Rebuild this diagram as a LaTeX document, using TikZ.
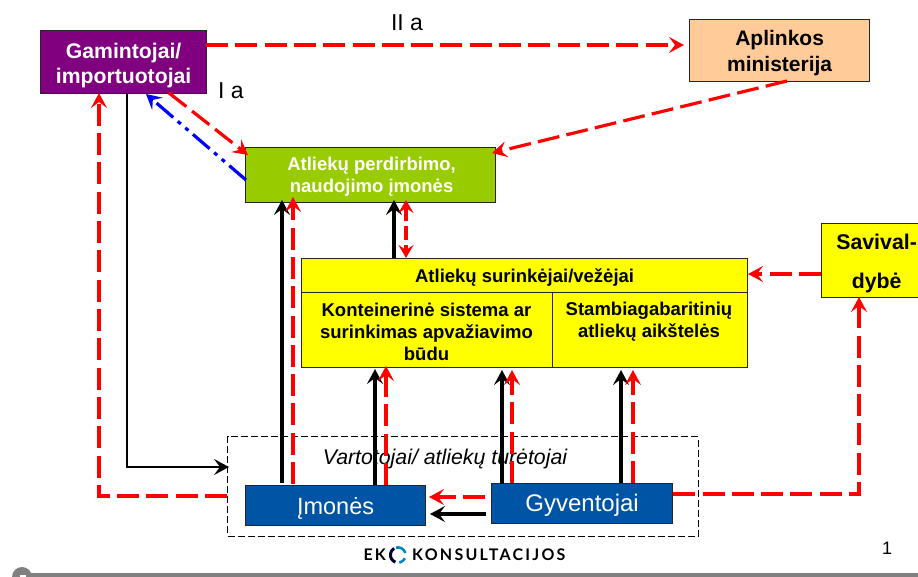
\documentclass[tikz,border=0pt]{standalone}
\usepackage{fontspec}
\setmainfont{Liberation Sans}
\newfontfamily\logofont{Lato}
\usetikzlibrary{arrows.meta}
\definecolor{rd}{RGB}{255,0,0}
\definecolor{purp}{RGB}{128,0,128}
\definecolor{peach}{RGB}{255,204,153}
\definecolor{grn}{RGB}{153,204,0}
\definecolor{blu}{RGB}{0,84,166}
\definecolor{yel}{RGB}{255,255,0}
\definecolor{foot}{RGB}{128,128,128}
\newcommand{\lowerby}[1]{\rule{0pt}{#1pt}}
\tikzset{
  tip/.style={-{Stealth[length=15pt,width=16pt,inset=6pt]}},
  bx/.style={draw=black!85,line width=1.2pt,inner sep=0pt,align=center,anchor=north west},
  red line/.style={draw=rd,line width=3.2pt,dash pattern=on 22pt off 7.3pt},
  blk line/.style={draw=black,line width=3.5pt},
  plain/.style={inner sep=0pt,align=center}
}
\begin{document}
\begin{tikzpicture}[x=1pt,y=-1pt]
\useasboundingbox (0,0) rectangle (918,577);
\fill[white] (0,0) rectangle (918,577);
% footer
\fill[foot] (15,573) rectangle (918,577);
\fill[foot] (22,577) circle (10);
\fill[white] (20,575) rectangle (26,577);
% consumer dashed frame
\node[draw=black,line width=1.3pt,dash pattern=on 7pt off 3pt,minimum width=470.5pt,minimum height=99.5pt,inner sep=0pt,anchor=north west] (frame) at (227,436) {};
% boxes
\node[bx,fill=purp,minimum width=166pt,minimum height=63pt,text=white,font=\fontsize{21.2}{25}\bfseries\selectfont] (gam) at (40,30) {\lowerby{21.5}Gamintojai/\\importuotojai};
\node[bx,fill=peach,minimum width=180pt,minimum height=62pt,font=\fontsize{21}{26}\bfseries\selectfont] (apl) at (689,19) {\lowerby{19.5}Aplinkos\\ministerija};
\node[bx,fill=grn,minimum width=250pt,minimum height=55pt,text=white,font=\fontsize{18.5}{22}\bfseries\selectfont] (grn) at (245,147) {\lowerby{17.5}\hspace*{2pt}Atliekų perdirbimo,\\\hspace*{2pt}naudojimo įmonės};
\node[bx,fill=yel,minimum width=446pt,minimum height=34pt,font=\fontsize{18.5}{20}\bfseries\selectfont] (col) at (301,258) {\lowerby{17}Atliekų surinkėjai/vežėjai};
\node[bx,fill=yel,minimum width=251pt,minimum height=75pt] (kon) at (301,292) {};
\node[bx,fill=yel,minimum width=195pt,minimum height=75pt] (sta) at (552,292) {};
\node[plain,font=\fontsize{18.5}{22}\bfseries\selectfont] (kont) at (426.5,331.5) {Konteinerinė sistema ar\\surinkimas apvažiavimo\\būdu};
\node[plain,font=\fontsize{18.5}{22}\bfseries\selectfont] (stat) at (649,322) {Stambiagabaritinių\\atliekų aikštelės};
\node[bx,fill=yel,minimum width=110pt,minimum height=74pt,font=\fontsize{21.3}{39}\bfseries\selectfont] (sav) at (821,223) {\lowerby{21.5}Savival-\\dybė};
\node[bx,fill=blu,minimum width=180pt,minimum height=40pt,text=white,font=\fontsize{23.5}{26}\selectfont] (imo) at (245,485) {\lowerby{23}Įmonės};
\node[bx,fill=blu,minimum width=181pt,minimum height=40pt,text=white,font=\fontsize{24}{26}\selectfont] (gyv) at (491,483) {\lowerby{21}Gyventojai};
% labels
\node[plain,font=\fontsize{23}{26}\selectfont] (l2) at (407,23) {II a};
\node[plain,font=\fontsize{23}{26}\selectfont] (l1) at (231,91) {I a};
\node[plain,font=\fontsize{21.3}{24}\itshape] (vart) at (445,459) {Vartotojai/ atliekų turėtojai};
\node[plain,font=\fontsize{18}{20}\selectfont] (pg) at (887,548) {1};
\node[plain,font=\logofont\bfseries\fontsize{16}{20}\selectfont,anchor=west] (logoa) at (363.5,555) {\addfontfeature{LetterSpace=12}EK};
\node[plain,font=\logofont\bfseries\fontsize{16}{20}\selectfont,anchor=west] (logob) at (412,555) {\addfontfeature{LetterSpace=14}KONSULTACIJOS};
\draw[color=black!80!blue,line width=3pt] plot[domain=120:250,samples=20] ({398+7.5*cos(\x)},{555-7.5*sin(\x)});
\draw[color=blu!70!cyan,line width=2.6pt] plot[domain=15:105,samples=15] ({398+7.5*cos(\x)},{555-7.5*sin(\x)});
\draw[color=blu!70!cyan,line width=2.6pt] plot[domain=-80:-25,samples=12] ({398+7.5*cos(\x)},{555-7.5*sin(\x)});
% coordinates
\coordinate (gr) at (206,45);
\coordinate (ar) at (684,45);
\coordinate (a1) at (169,93);
\coordinate (a2) at (248,155);
\coordinate (b1) at (246,180);
\coordinate (b2) at (146,94);
\coordinate (m1) at (787,81);
\coordinate (m2) at (492,153);
% connectors
\draw[red line,tip] (gr) -- (ar);
\draw[red line,tip] (a1) -- (a2);
\draw[draw=blue,line width=3.2pt,dash pattern=on 22pt off 6pt on 4pt off 6pt on 4pt off 6pt,tip] (b1) -- (b2);
\draw[red line,tip] (m1) -- (m2);
\draw[red line,tip] (sav.west|-0,274) -- (748,274);
\draw[red line,tip] (frame.west|-0,496) -- (99,496) -- (99,93);
\draw[draw=black,line width=2.5pt,tip] (127,94) -- (127,467) -- (229,467);
\draw[blk line,tip] (282,483) -- (282,200);
\draw[red line,tip] (293,484) -- (293,197);
\draw[blk line,tip] (394,258) -- (394,200);
\draw[red line,{Stealth[length=13pt,width=15pt,inset=5pt]}-{Stealth[length=13pt,width=15pt,inset=5pt]},dash pattern=on 14pt off 5pt] (406,200) -- (406,258);
\draw[blk line,tip] (375,485) -- (375,369);
\draw[red line,tip] (386,485) -- (386,366);
\draw[blk line,tip] (502,484) -- (502,370);
\draw[red line,tip] (512,483) -- (512,370);
\draw[blk line,tip] (621,483) -- (621,370);
\draw[red line,tip] (633,483) -- (633,370);
\draw[red line,tip] (gyv.east|-0,494) -- (859,494) -- (859,297);
\draw[red line,tip] (485,497) -- (429,497);
\draw[blk line,tip] (486,514) -- (430,514);
\end{tikzpicture}
\end{document}
